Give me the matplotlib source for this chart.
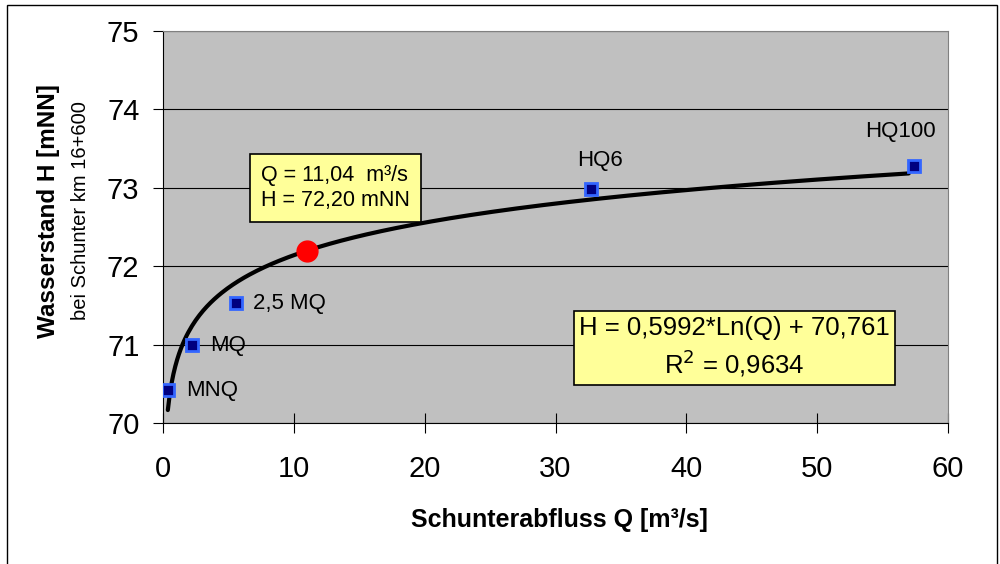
import numpy as np
import matplotlib.pyplot as plt
from matplotlib.patches import Rectangle

plt.rcParams['font.family'] = ['Liberation Sans', 'DejaVu Sans']

# Messpunkte (Q in m³/s, H in mNN)
labels = ["MNQ", "MQ", "2,5 MQ", "HQ6", "HQ100"]
q_pts = [0.38, 2.2, 5.6, 32.7, 57.4]
h_pts = [70.42, 70.99, 71.53, 72.99, 73.28]

# Bemessungspunkt
q_sel = 11.04
h_sel = 72.20

# Trendlinie H = a*Ln(Q) + b
coef_a = 0.5992
coef_b = 70.761
r2 = 0.9634
q_range = (0.37, 57.0)

fig = plt.figure(figsize=(10, 5.64), dpi=100)
ax = fig.add_axes([0.163, 0.25, 0.785, 0.695])
ax.set_facecolor("#C0C0C0")

# Rahmen um die Grafik
fig.patches.append(Rectangle((0.007, -0.01), 0.99, 1.001, transform=fig.transFigure,
                             fill=False, edgecolor="black", linewidth=1.0))

ax.set_xlim(0, 60)
ax.set_ylim(70, 75)
ax.set_xticks(np.arange(0, 61, 10))
ax.set_yticks(np.arange(70, 75.1, 1))
ax.yaxis.grid(True, color="black", linewidth=0.8)
ax.set_axisbelow(True)
ax.tick_params(axis="y", direction="out", length=7, labelsize=21, pad=10)
ax.tick_params(axis="x", direction="inout", length=14, labelsize=21, pad=16)

for s in ["top", "right"]:
    ax.spines[s].set_color("#808080")
for s in ["left", "bottom"]:
    ax.spines[s].set_color("black")

qq = np.linspace(q_range[0], q_range[1], 400)
ax.plot(qq, coef_a * np.log(qq) + coef_b, color="black", linewidth=3.0,
        solid_capstyle="round", zorder=3)

ax.plot(q_pts, h_pts, "s", markersize=9, markerfacecolor="#000080",
        markeredgecolor="#3366FF", markeredgewidth=2, zorder=4)
ax.plot([q_sel], [h_sel], "o", markersize=15, color="red", zorder=5)

offsets = {"MNQ": (13, 0, "left"), "MQ": (13, 0, "left"), "2,5 MQ": (12, 0, "left"),
           "HQ6": (6.5, 20, "center"), "HQ100": (-9.5, 24.5, "center")}
for lab, q, h in zip(labels, q_pts, h_pts):
    dx, dy, ha = offsets[lab]
    ax.annotate(lab, (q, h), xytext=(dx, dy), textcoords="offset points",
                ha=ha, va="center", fontsize=16)

box1 = dict(boxstyle="square,pad=0.5", facecolor="#FFFF99", edgecolor="black", linewidth=1.2)
ax.text(13.19, 73.0, f"Q = {q_sel:.2f}  m³/s\nH = {h_sel:.2f} mNN".replace(".", ","),
        fontsize=15.5, ha="center", va="center", multialignment="left",
        bbox=box1, linespacing=1.25, zorder=6)
box2 = dict(boxstyle="square,pad=0.2", facecolor="#FFFF99", edgecolor="black", linewidth=1.2)
eq = (f"H = {coef_a:.4f}*Ln(Q) + {coef_b:.3f}".replace(".", ",")
      + "\n" + f"R$^2$ = {r2:.4f}".replace(".", ","))
ax.text(43.7, 70.96, eq, fontsize=18.5, ha="center", va="center", bbox=box2,
        linespacing=1.3, zorder=6)

fig.text(0.559, 0.078, "Schunterabfluss Q [m³/s]", fontsize=18, fontweight="bold",
         ha="center", va="center")
fig.text(0.049, 0.626, "Wasserstand H [mNN]", rotation=90, fontsize=17.5,
         fontweight="bold", ha="center", va="center")
fig.text(0.080, 0.626, "bei Schunter km 16+600", rotation=90, fontsize=14.5,
         ha="center", va="center")

fig.savefig("out.png", dpi=100)
